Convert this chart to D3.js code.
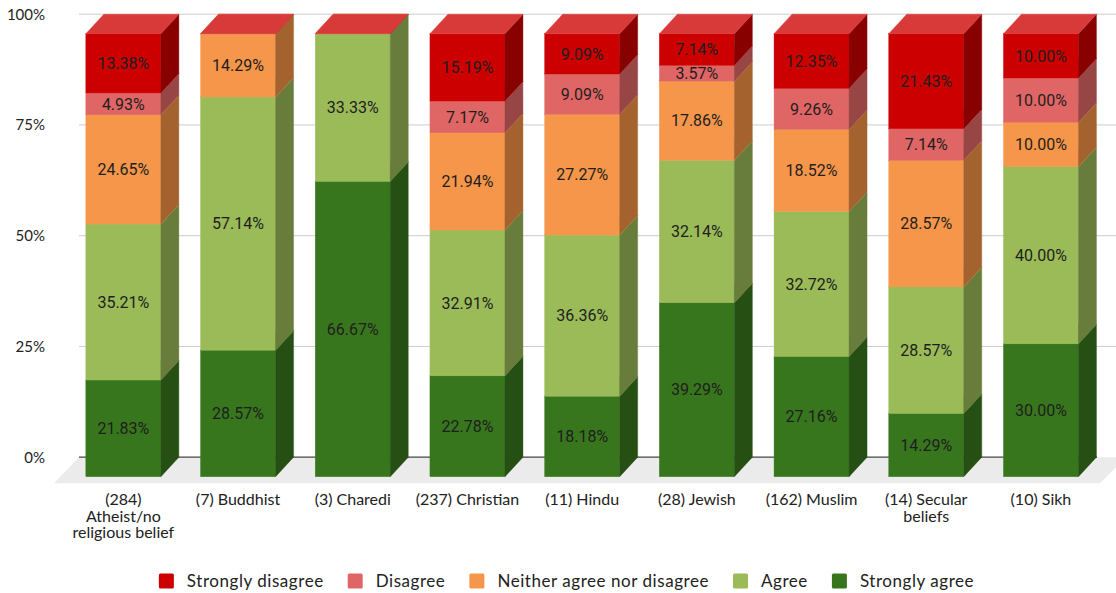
<!DOCTYPE html>
<html>
<head>
<meta charset="utf-8">
<script src="https://cdn.jsdelivr.net/npm/d3@7"></script>
<style>
  html, body { margin: 0; padding: 0; background: #ffffff; }
  svg { display: block; }
</style>
</head>
<body>
<svg id="chart" width="1116" height="593"></svg>
<script>
// Response groups (respondent count in brackets)
const categories = [
  "(284) Atheist/no religious belief",
  "(7) Buddhist",
  "(3) Charedi",
  "(237) Christian",
  "(11) Hindu",
  "(28) Jewish",
  "(162) Muslim",
  "(14) Secular beliefs",
  "(10) Sikh"
];

// Stack order, bottom to top
const seriesNames = ["Strongly agree", "Agree", "Neither agree nor disagree", "Disagree", "Strongly disagree"];

// Percentages per group for each answer
const stronglyAgree    = [21.83, 28.57, 66.67, 22.78, 18.18, 39.29, 27.16, 14.29, 30.00];
const agree            = [35.21, 57.14, 33.33, 32.91, 36.36, 32.14, 32.72, 28.57, 40.00];
const neither          = [24.65, 14.29,  0.00, 21.94, 27.27, 17.86, 18.52, 28.57, 10.00];
const disagree         = [ 4.93,  0.00,  0.00,  7.17,  9.09,  3.57,  9.26,  7.14, 10.00];
const stronglyDisagree = [13.38,  0.00,  0.00, 15.19,  9.09,  7.14, 12.35, 21.43, 10.00];

const yTicks = [0, 25, 50, 75, 100];

// Legend reads from the top of the stack down
const legendOrder = ["Strongly disagree", "Disagree", "Neither agree nor disagree", "Agree", "Strongly agree"];

// Face colours: front, side (shaded), top (lit)
const palette = {
  "Strongly disagree":          { front: "#cc0000", side: "#880000", top: "#d83a3a" },
  "Disagree":                   { front: "#e06666", side: "#984545", top: "#e58080" },
  "Neither agree nor disagree": { front: "#f6964a", side: "#a4622f", top: "#f8aa6c" },
  "Agree":                      { front: "#9bbb59", side: "#687c3b", top: "#afc97a" },
  "Strongly agree":             { front: "#38761d", side: "#254f13", top: "#5a8d44" }
};

const seriesValues = {
  "Strongly agree": stronglyAgree,
  "Agree": agree,
  "Neither agree nor disagree": neither,
  "Disagree": disagree,
  "Strongly disagree": stronglyDisagree
};

const svg = d3.select("#chart");

// 3D depth offset of each column (screen pixels)
const depthX = 18, depthY = -19.5;

const x = d3.scaleBand()
  .domain(categories)
  .range([66, 66 + 9 * 114.7])
  .paddingInner(0.346)
  .paddingOuter(0.173);

// Front-face value scale; the back wall sits one depth offset behind it
const y = d3.scaleLinear().domain([0, 100]).range([476.7, 33.7]);
const yBack = v => y(v) + depthY;

const plotLeft = 79, plotRight = 1116;

// Gridlines on the back wall
const grid = svg.append("g");
grid.selectAll("line")
  .data(yTicks.filter(t => t !== 0))
  .join("line")
  .attr("x1", plotLeft).attr("x2", plotRight)
  .attr("y1", d => yBack(d)).attr("y2", d => yBack(d))
  .attr("stroke", "#cccccc").attr("stroke-width", 1);

// Floor
const floorBack = yBack(0), floorFront = floorBack + 26;
svg.append("polygon")
  .attr("points", [
    [plotLeft, floorBack], [1126, floorBack],
    [1100, floorFront], [54, floorFront]
  ].map(p => p.join(",")).join(" "))
  .attr("fill", "#ebebeb");

// Baseline
svg.append("line")
  .attr("x1", plotLeft).attr("x2", 1097)
  .attr("y1", floorBack).attr("y2", floorBack)
  .attr("stroke", "#444444").attr("stroke-width", 1.3);

// Y axis labels
const yAxis = d3.axisLeft(d3.scaleLinear().domain([0, 100]).range([yBack(0), yBack(100)]))
  .tickValues(yTicks)
  .tickFormat(d => d + "%")
  .tickSize(0)
  .tickPadding(0);
const yg = svg.append("g").attr("transform", "translate(45,0)").call(yAxis);
yg.select(".domain").remove();
yg.selectAll("text")
  .attr("font-family", "Lato, sans-serif")
  .attr("font-size", 15)
  .attr("fill", "#222222");

// Stacked columns
const stackData = categories.map((c, i) => {
  const row = { category: c };
  seriesNames.forEach(s => row[s] = seriesValues[s][i]);
  return row;
});
const stacked = d3.stack().keys(seriesNames)(stackData);

const bars = svg.append("g");
categories.forEach((c, i) => {
  const x0 = x(c), x1 = x(c) + x.bandwidth();
  const col = bars.append("g");
  stacked.forEach(layer => {
    const s = layer.key;
    const [v0, v1] = layer[i];
    const yb = y(v0), yt = y(v1);
    const pal = palette[s];
    // front face
    col.append("rect")
      .attr("x", x0).attr("y", yt)
      .attr("width", x1 - x0).attr("height", Math.max(0, yb - yt))
      .attr("fill", pal.front)
      .attr("stroke", pal.front).attr("stroke-width", 0.4);
    // side face
    col.append("polygon")
      .attr("points", [[x1, yb], [x1 + depthX, yb + depthY], [x1 + depthX, yt + depthY], [x1, yt]]
        .map(p => p.join(",")).join(" "))
      .attr("fill", pal.side)
      .attr("stroke", pal.side).attr("stroke-width", 0.4);
    // top face
    col.append("polygon")
      .attr("points", [[x0, yt], [x0 + depthX, yt + depthY], [x1 + depthX, yt + depthY], [x1, yt]]
        .map(p => p.join(",")).join(" "))
      .attr("fill", pal.top)
      .attr("stroke", pal.top).attr("stroke-width", 0.4);
  });
});

// Value labels centred on each front face
const labels = svg.append("g")
  .attr("font-family", "Roboto, sans-serif")
  .attr("font-size", 16)
  .attr("fill", "#1e1e1e")
  .attr("text-anchor", "middle");
stacked.forEach(layer => {
  layer.forEach((seg, i) => {
    const v = seriesValues[layer.key][i];
    if (v <= 0) return;
    const cx = x(categories[i]) + x.bandwidth() / 2;
    const cy = (y(seg[0]) + y(seg[1])) / 2;
    labels.append("text")
      .attr("x", cx).attr("y", cy)
      .attr("dy", "0.36em")
      .text(v.toFixed(2) + "%");
  });
});

// Category labels, wrapped to the column slot
const xAxisG = svg.append("g")
  .attr("font-family", "Lato, sans-serif")
  .attr("font-size", 16)
  .attr("fill", "#222222")
  .attr("text-anchor", "middle");
const wrapWidth = 110, lineHeight = 16.5, firstBaseline = 505;
categories.forEach(c => {
  const cx = x(c) + x.bandwidth() / 2;
  const t = xAxisG.append("text").attr("x", cx).attr("y", firstBaseline);
  const words = c.split(" ");
  let lines = [], cur = [];
  const probe = xAxisG.append("text").attr("visibility", "hidden");
  words.forEach(w => {
    const test = cur.concat(w).join(" ");
    probe.text(test);
    if (cur.length && probe.node().getComputedTextLength() > wrapWidth) {
      lines.push(cur.join(" "));
      cur = [w];
    } else {
      cur.push(w);
    }
  });
  lines.push(cur.join(" "));
  probe.remove();
  lines.forEach((ln, k) => {
    t.append("tspan").attr("x", cx).attr("y", firstBaseline + k * lineHeight).text(ln);
  });
});

// Legend
const legend = svg.append("g")
  .attr("font-family", "Lato, sans-serif")
  .attr("font-size", 17)
  .attr("letter-spacing", 0.55)
  .attr("fill", "#222222");
const sw = 15, swGap = 13, itemGap = 24, legendY = 581;
const items = legendOrder.map(name => {
  const g = legend.append("g");
  g.append("rect")
    .attr("width", sw).attr("height", sw)
    .attr("y", legendY - sw / 2)
    .attr("rx", 1.5)
    .attr("fill", palette[name].front);
  const txt = g.append("text")
    .attr("x", sw + swGap).attr("y", legendY)
    .attr("dy", "0.36em")
    .text(name);
  return { g, w: sw + swGap + txt.node().getComputedTextLength() };
});
const totalW = d3.sum(items, d => d.w) + itemGap * (items.length - 1);
let lx = 566.5 - totalW / 2;
items.forEach(it => {
  it.g.attr("transform", `translate(${lx},0)`);
  lx += it.w + itemGap;
});
</script>
</body>
</html>
